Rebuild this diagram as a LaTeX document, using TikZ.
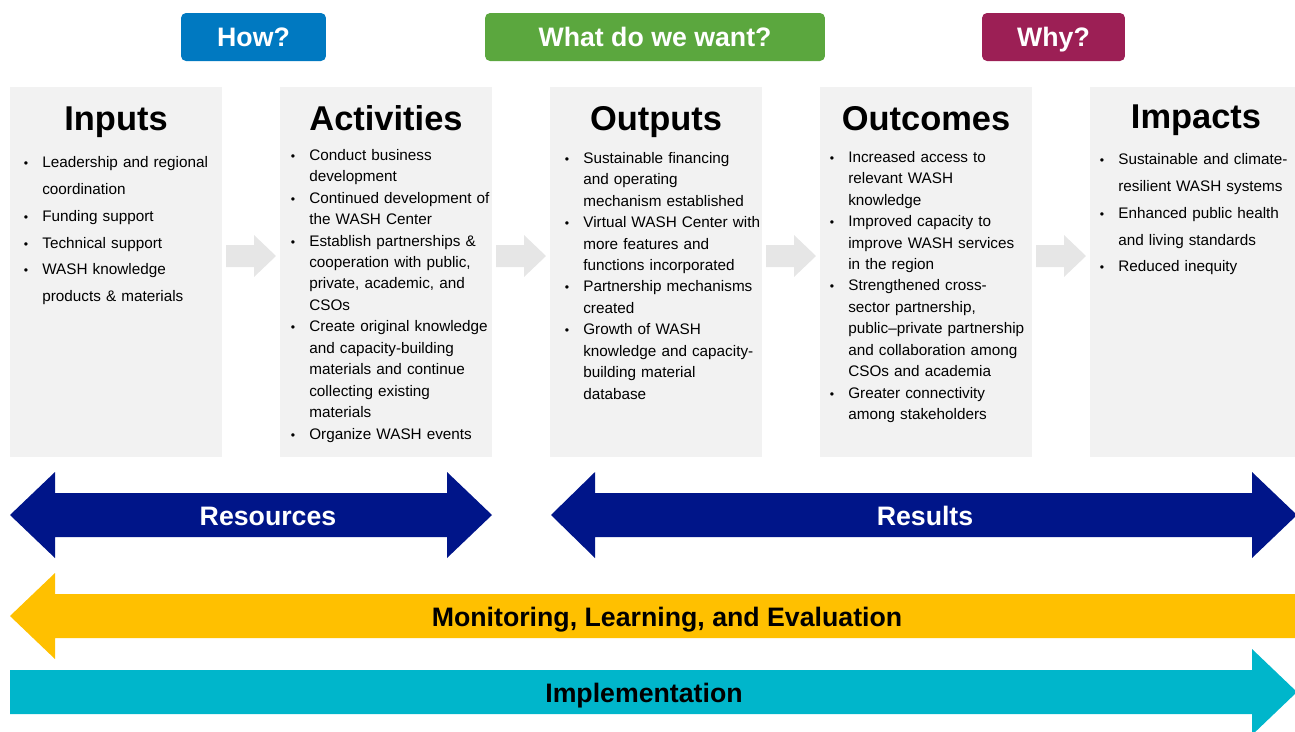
\documentclass[tikz,border=0pt]{standalone}
\usepackage{fontspec}
\setmainfont{Liberation Sans}
\definecolor{boxgray}{HTML}{F2F2F2}
\definecolor{flowgray}{HTML}{E6E6E6}
\definecolor{howblue}{HTML}{0079C1}
\definecolor{wantgreen}{HTML}{5BA73E}
\definecolor{whyred}{HTML}{9C1F55}
\definecolor{resnavy}{HTML}{001589}
\definecolor{mlegold}{HTML}{FFC000}
\definecolor{impcyan}{HTML}{00B6CB}
\newcommand{\firstbul}{\noindent\hangindent=0.4cm\hangafter=1\rule{0pt}{0.24cm}\makebox[0.4cm][l]{\hspace{0.03cm}{\fontsize{7}{7}\selectfont\textbullet}}}
\newcommand{\bul}{\par\firstbul}
\tikzset{
  box/.style={fill=boxgray, minimum width=4.24cm, minimum height=7.4cm, inner sep=0pt},
  title/.style={font=\fontsize{19.6}{20}\selectfont\bfseries, anchor=base, inner sep=0pt},
  body/.style={anchor=north west, inner sep=0pt, text width=5cm, align=left, font=\fontsize{8.7}{12.2}\selectfont},
  loose/.style={font=\fontsize{8.7}{15.3}\selectfont},
  hdr/.style={rounded corners=0.1cm, text=white, font=\fontsize{15.2}{16}\selectfont\bfseries, minimum height=0.96cm, text height=10.9pt, text depth=0pt},
  lbl/.style={font=\fontsize{15.2}{16}\selectfont\bfseries, inner sep=0pt, text height=10.9pt, text depth=0pt}
}
\begin{document}
\begin{tikzpicture}[x=0.02cm,y=-0.02cm]
  \useasboundingbox (0,0) rectangle (1295,731);
  % question headers
  \node[hdr, fill=howblue, minimum width=2.9cm] (how) at (253.5,37) {How?};
  \node[hdr, fill=wantgreen, minimum width=6.8cm] (want) at (655,37) {What do we want?};
  \node[hdr, fill=whyred, minimum width=2.86cm] (why) at (1053.5,37) {Why?};
  % columns
  \node[box] (inputs) at (116,272) {};
  \node[box] (activities) at (386,272) {};
  \node[box] (outputs) at (656,272) {};
  \node[box] (outcomes) at (926,272) {};
  \node[box] (impacts) at (1196,272) {};
  \foreach \x in {222,492,762,1032}
    \fill[flowgray] (\x+4,245) -- (\x+32,245) -- (\x+32,235) -- (\x+54,256) -- (\x+32,277) -- (\x+32,267) -- (\x+4,267) -- cycle;
  \node[title] (inT) at (116,130) {Inputs};
  \node[title] (actT) at (386,130) {Activities};
  \node[title] (outT) at (656,130) {Outputs};
  \node[title] (ocT) at (926,130) {Outcomes};
  \node[title] (impT) at (1196,128) {Impacts};
  \node[body, loose] (inB) at (22,155) {\firstbul Leadership and regional\newline coordination
    \bul Funding support
    \bul Technical support
    \bul WASH knowledge\newline products \& materials\par};
  \node[body] (actB) at (289,148) {\firstbul Conduct business\newline development
    \bul Continued development of\newline the WASH Center
    \bul Establish partnerships \&\newline cooperation with public,\newline private, academic, and\newline CSOs
    \bul Create original knowledge\newline and capacity-building\newline materials and continue\newline collecting existing\newline materials
    \bul Organize WASH events\par};
  \node[body] (outB) at (563,151) {\firstbul Sustainable financing\newline and operating\newline mechanism established
    \bul Virtual WASH Center with\newline more features and\newline functions incorporated
    \bul Partnership mechanisms\newline created
    \bul Growth of WASH\newline knowledge and capacity-\newline building material\newline database\par};
  \node[body] (ocB) at (828,150) {\firstbul Increased access to\newline relevant WASH\newline knowledge
    \bul Improved capacity to\newline improve WASH services\newline in the region
    \bul Strengthened cross-\newline sector partnership,\newline public--private partnership\newline and collaboration among\newline CSOs and academia
    \bul Greater connectivity\newline among stakeholders\par};
  \node[body, loose] (impB) at (1098,152) {\firstbul Sustainable and climate-\newline resilient WASH systems
    \bul Enhanced public health\newline and living standards
    \bul Reduced inequity\par};
  % lower bands
  \fill[resnavy] (10,515) -- (55,472) -- (55,493) -- (447,493) -- (447,472) -- (492,515) -- (447,558) -- (447,537) -- (55,537) -- (55,558) -- cycle;
  \fill[resnavy] (551,515) -- (595,472) -- (595,493) -- (1252,493) -- (1252,472) -- (1297,515) -- (1252,558) -- (1252,537) -- (595,537) -- (595,558) -- cycle;
  \fill[mlegold] (10,616) -- (55,573) -- (55,594) -- (1300,594) -- (1300,638) -- (55,638) -- (55,659) -- cycle;
  \fill[impcyan] (10,670) -- (1252,670) -- (1252,649) -- (1297,692) -- (1252,735) -- (1252,714) -- (10,714) -- cycle;
  \node[lbl, text=white] (res) at (268,516) {Resources};
  \node[lbl, text=white] (rslt) at (925,516) {Results};
  \node[lbl] (mle) at (667,617) {Monitoring, Learning, and Evaluation};
  \node[lbl] (impl) at (644,693) {Implementation};
\end{tikzpicture}
\end{document}
